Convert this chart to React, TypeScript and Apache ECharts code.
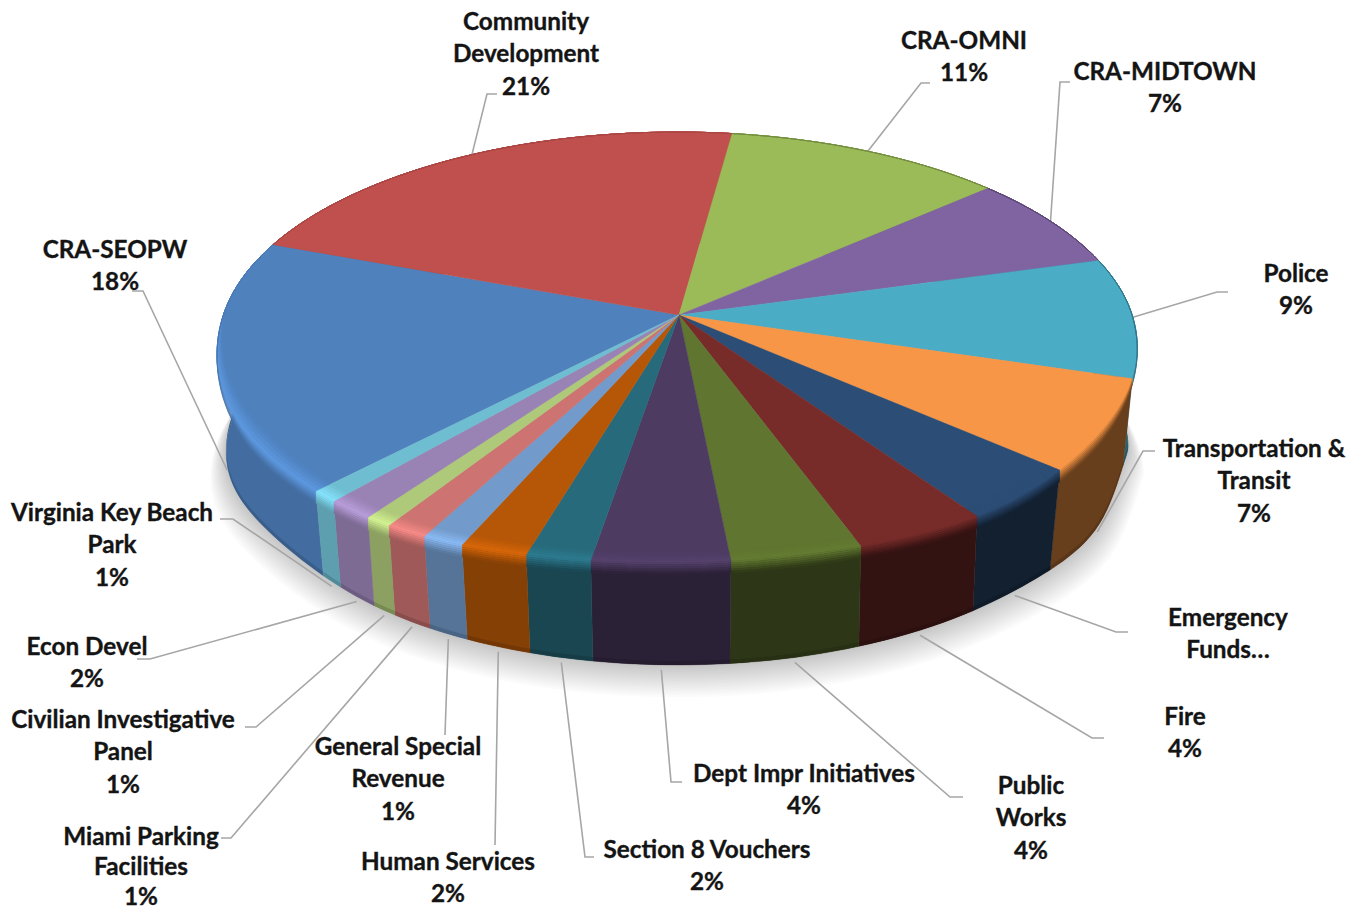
import React, { useEffect, useRef } from "react";
import * as echarts from "echarts";

// ---- data (share of total; clockwise from CRA-SEOPW) ----
const sliceNames = [
  "CRA-SEOPW", "Community\nDevelopment", "CRA-OMNI", "CRA-MIDTOWN", "Police",
  "Transportation &\nTransit", "Emergency\nFunds…", "Fire", "Public\nWorks",
  "Dept Impr Initiatives", "Section 8 Vouchers", "Human Services",
  "General Special\nRevenue", "Miami Parking\nFacilities", "Civilian Investigative\nPanel",
  "Econ Devel", "Virginia Key Beach\nPark",
];
const sliceValues = [18.4, 21.4, 11.3, 7.2, 9.05, 6.8, 3.95, 4.0, 4.0, 4.17, 1.94, 2.0, 1.25, 1.28, 0.83, 1.52, 0.89];
const showPercent = [true, true, true, true, true, true, false, true, true, true, true, true, true, true, true, true, true];
const sliceColors = [
  "#4F81BD", "#C0504D", "#9BBB59", "#8064A2", "#4BACC6", "#F79646",
  "#2C4D75", "#772C2A", "#5F7530", "#4D3B62", "#276A7C", "#B65708",
  "#729ACA", "#CD7371", "#AFC97A", "#9983B5", "#6FBDD1",
];

// ---- layout ----
const FIRST_ANGLE = 224.4;
const AX = 679, AY = 315, A = 455, B = 210.2, K = 0.1488, M = 0.004;
const DEPTH = 108, BOTTOM_SCALE = 0.98;
const LINE_HEIGHT = 32.4, TIGHT_LINE_HEIGHT = 30, TIGHT_LABEL = 13;
// label centre x, centre y of first line, then leader points from the label side
const labelLayout: [number, number, number[][]][] = [
  [115, 249, [[132, 291], [143, 291]]],
  [526, 21, [[497, 94], [487, 94]]],
  [964, 40, [[930, 83], [921, 83]]],
  [1165, 71, [[1070, 82], [1060, 82]]],
  [1296, 273, [[1228, 292], [1217, 292]]],
  [1254, 448, [[1155, 451], [1143, 451]]],
  [1228, 617, [[1128, 632], [1116, 632]]],
  [1185, 716, [[1104, 738], [1092, 738]]],
  [1031, 785, [[963, 797], [950, 797]]],
  [804, 773, [[682, 782], [671, 782]]],
  [707, 849, [[594, 857], [585, 857]]],
  [448, 861, [[495, 845]]],
  [398, 746, [[445, 735]]],
  [141, 836, [[221, 838], [231, 838]]],
  [123, 719, [[245, 727], [256, 727]]],
  [87, 646, [[137, 659], [150, 659]]],
  [112, 512, [[220, 519], [233, 519]]],
];
const sideStops = [[0, .7], [90, .58], [110, .42], [145, .41], [160, .45], [175, .5], [185, .58], [195, .68], [200, .73], [205, .75], [215, .8], [225, .85], [360, .84]];
const glowStops = [[0, 1], [150, 1], [175, 1.08], [190, 1.15], [205, 1.22], [270, 1.18], [290, 1], [360, 1]];

const total = sliceValues.reduce((a, b) => a + b, 0);
const startAngles: number[] = [];
sliceValues.reduce((acc, v, i) => { startAngles[i] = acc; return acc + (v / total) * 360; }, FIRST_ANGLE);
const sweep = (i: number) => (sliceValues[i] / total) * 360;
const norm = (d: number) => ((d % 360) + 360) % 360;
const bell = (d: number, c: number, w: number) => Math.exp(-(((norm(d) - c) / w) ** 2));

function lookup(stops: number[][], d: number) {
  const x = norm(d);
  for (let i = 1; i < stops.length; i++) {
    if (x <= stops[i][0]) {
      const t = (x - stops[i - 1][0]) / (stops[i][0] - stops[i - 1][0]);
      return stops[i - 1][1] + t * (stops[i][1] - stops[i - 1][1]);
    }
  }
  return stops[stops.length - 1][1];
}
function project(deg: number, scale = 1) {
  const r = (deg * Math.PI) / 180;
  const s = Math.sin(r), c = Math.cos(r);
  const d = 1 + K * c + M * s;
  return [(scale * A * s) / d, -(scale * B * c) / d];
}
// the lens outline of the picture is not a perfect ellipse: small corrections
function rim(deg: number, inset = 1) {
  const g = 1 + 0.03 * bell(deg, 210, 18) + 0.02 * bell(deg, 145, 15);
  const p = project(deg, g * inset);
  return [AX + p[0], AY + p[1] + 10 * bell(deg, 245, 25) * inset];
}
function bottom(deg: number, extra = 0, grow = 0) {
  const p = project(deg, BOTTOM_SCALE + grow);
  const dx = -8 * bell(deg, 215, 15) + 8 * bell(deg, 148, 12);
  const dy = -14 * bell(deg, 232, 22) - 6 * bell(deg, 142, 15) - 20 * bell(deg, 107, 9);
  return [AX + p[0] + dx, AY + DEPTH + extra + p[1] + dy];
}
const rgb = (hex: string) => [1, 3, 5].map((i) => parseInt(hex.slice(i, i + 2), 16));
const mul = (c: number[], f: number) => c.map((v) => Math.min(255, v * f));
const mix = (a: number[], b: number[], t: number) => a.map((v, i) => v + (b[i] - v) * t);
const css = (c: number[]) => `rgb(${c.map((v) => Math.round(v)).join(",")})`;
function arc(i: number, fn: (d: number) => number[]) {
  const pts: number[][] = [];
  const n = Math.max(2, Math.ceil(sweep(i) / 1.5));
  for (let k = 0; k <= n; k++) pts.push(fn(startAngles[i] + (sweep(i) * k) / n));
  return pts;
}
const midAngle = (i: number) => startAngles[i] + sweep(i) / 2;
const sideColor = (i: number) => mul(rgb(sliceColors[i]), lookup(sideStops, midAngle(i)));
// how far the soft rim band reaches: full at the front, nothing at the back
const bandWidth = (d: number) => {
  const c = Math.cos((d * Math.PI) / 180);
  return Math.max(0, Math.min(1, -c * 1.8 + 0.05));
};
const PEAK = 0.45;
function bandPoint(t: number, d: number) {
  const w = bandWidth(d);
  if (t < PEAK) return rim(d, 1 - 0.042 * w * (1 - t / PEAK));
  const p = rim(d);
  return [p[0], p[1] + 12 * w * ((t - PEAK) / (1 - PEAK))];
}

function renderShadow() {
  const LAYERS = 14;
  const children: any[] = [];
  for (let k = LAYERS; k >= 1; k--) {
    const ring: number[][] = [];
    for (let d = 0; d < 360; d += 3) ring.push(bottom(d, k * 1.7, k * 0.0025));
    children.push({ type: "polygon", shape: { points: ring }, style: { fill: "rgba(0,0,0,0.014)" } });
  }
  return { type: "group", children };
}
function renderSide(params: any) {
  const i = params.dataIndex;
  const top = arc(i, (d) => rim(d));
  const low = arc(i, (d) => bottom(d));
  const col = sideColor(i);
  const edgeHi = arc(i, (d) => bottom(d, -4));
  const children: any[] = [
    { type: "polygon", shape: { points: [...top, ...low.slice().reverse()] }, style: { fill: css(col), stroke: css(col), lineWidth: 0.4 } },
    { type: "polygon", shape: { points: [...edgeHi, ...low.slice().reverse()] }, style: { fill: css(mul(col, 0.86)) } },
  ];
  return { type: "group", children };
}
function renderTop(params: any) {
  const i = params.dataIndex;
  const c = sliceColors[i];
  return {
    type: "polygon",
    shape: { points: [[AX, AY], ...arc(i, (d) => rim(d))] },
    style: { fill: c, stroke: c, lineWidth: 0.4 },
  };
}
function renderBevel(params: any) {
  const i = params.dataIndex;
  const base = rgb(sliceColors[i]);
  const side = sideColor(i);
  const glow = mul(base, lookup(glowStops, midAngle(i)));
  const STRIPS = 11;
  const children: any[] = [];
  for (let k = 0; k < STRIPS; k++) {
    const t0 = k / STRIPS, t1 = (k + 1) / STRIPS, tm = (t0 + t1) / 2;
    const col = tm < PEAK ? mix(base, glow, tm / PEAK) : mix(glow, side, (tm - PEAK) / (1 - PEAK));
    const a = arc(i, (d) => bandPoint(t0, d));
    const b = arc(i, (d) => bandPoint(t1, d));
    children.push({ type: "polygon", shape: { points: [...a, ...b.reverse()] }, style: { fill: css(col), stroke: css(col), lineWidth: 0.3 } });
  }
  return { type: "group", children };
}
function renderLeader(params: any) {
  const i = params.dataIndex;
  const m = midAngle(i);
  const front = Math.cos((m * Math.PI) / 180) < -0.05;
  const anchor = front ? bottom(m, 5) : rim(m);
  return {
    type: "polyline",
    shape: { points: [...labelLayout[i][2], anchor] },
    style: { fill: "none", stroke: "#a6a6a6", lineWidth: 1.6 },
  };
}
function renderLabel(params: any) {
  const i = params.dataIndex;
  const pct = Math.round((sliceValues[i] / total) * 100);
  const text = sliceNames[i] + (showPercent[i] ? `\n${pct}%` : "");
  const lh = i === TIGHT_LABEL ? TIGHT_LINE_HEIGHT : LINE_HEIGHT;
  return {
    type: "text",
    x: labelLayout[i][0],
    y: labelLayout[i][1] - lh / 2 - 0.8,
    style: {
      text,
      fill: "#141414",
      stroke: "#141414",
      lineWidth: 0.35,
      font: 'bold 24.3px Lato, "Open Sans", sans-serif',
      lineHeight: lh,
      align: "center",
      verticalAlign: "top",
    },
  };
}

export default function App() {
  const ref = useRef<HTMLDivElement>(null);
  useEffect(() => {
    const chart = echarts.init(ref.current!, undefined, { renderer: "svg" });
    const rows = sliceValues.map((v, i) => [v, i]);
    const layer = (name: string, z: number, renderItem: any, data: any[] = rows) => ({
      type: "custom", name, z, silent: true, coordinateSystem: "none", renderItem, data,
    });
    chart.setOption({
      animation: false,
      backgroundColor: "#ffffff",
      series: [
        layer("shadow", 1, renderShadow, [[total]]),
        layer("leaders", 2, renderLeader),
        layer("sides", 3, renderSide),
        layer("tops", 4, renderTop),
        layer("bevel", 5, renderBevel),
        layer("labels", 6, renderLabel),
      ],
    });
    return () => chart.dispose();
  }, []);
  return <div ref={ref} style={{ position: "absolute", left: 0, top: 0, width: 1367, height: 911 }} />;
}
